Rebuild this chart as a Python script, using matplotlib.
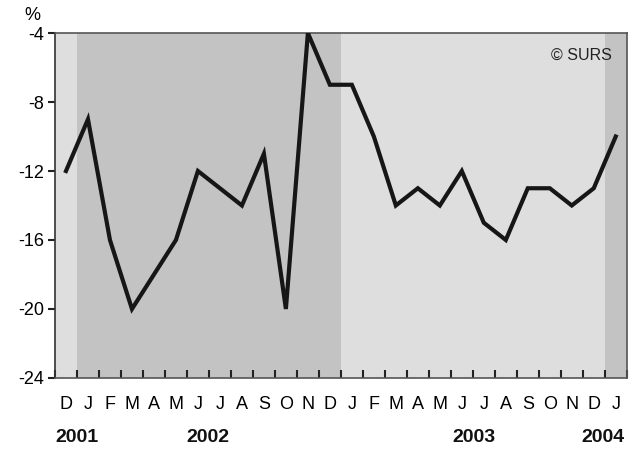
import matplotlib.pyplot as plt
import matplotlib.transforms as mtransforms
import numpy as np

plt.rcParams['font.family'] = ['Liberation Sans', 'DejaVu Sans']

months = ['D', 'J', 'F', 'M', 'A', 'M', 'J', 'J', 'A', 'S', 'O', 'N',
          'D', 'J', 'F', 'M', 'A', 'M', 'J', 'J', 'A', 'S', 'O', 'N',
          'D', 'J']
values = [-12, -9, -16, -20, -18, -16, -12, -13, -14, -11, -20, -4,
          -7, -7, -10, -14, -13, -14, -12, -15, -16, -13, -13, -14,
          -13, -10]
years = ['2001', '2002', '2003', '2004']
months_per_year = [1, 12, 12, 1]
year_label_pos = [0.5, 6.45, 18.55, 24.4]

band_colors = ['#dedede', '#c3c3c3']

fig = plt.figure(figsize=(6.35, 4.51), dpi=100)
ax = fig.add_axes([0.0866, 0.1619, 0.9004, 0.7649])

x = np.arange(len(values))

# alternating shaded blocks, one per year
start = -0.5
for i, n in enumerate(months_per_year):
    ax.axvspan(start, start + n, color=band_colors[i % 2], lw=0, zorder=0)
    start += n

ax.plot(x, values, color='#161616', lw=3.0, solid_joinstyle='miter', zorder=3)

ax.set_xlim(-0.5, len(values) - 0.5)
ax.set_ylim(-24, -4)
ax.set_yticks([-24, -20, -16, -12, -8, -4])
ax.set_yticklabels(['-24', '-20', '-16', '-12', '-8', '-4'])

# ticks sit on month boundaries, letters centred in between
ax.set_xticks(np.arange(len(values) + 1) - 0.5)
ax.set_xticklabels([])
ax.set_xticks(x, minor=True)
ax.set_xticklabels(months, minor=True)
ax.tick_params(axis='x', which='major', direction='in', length=6, width=1.5,
               color='#222222')
ax.tick_params(axis='x', which='minor', length=0, pad=13, labelsize=13)
ax.tick_params(axis='y', direction='out', length=5, width=1.5, pad=3,
               labelsize=13, color='#222222')

for s in ax.spines.values():
    s.set_color('#555555')
    s.set_linewidth(1.2)
ax.spines['left'].set_color('#333333')

trans = mtransforms.blended_transform_factory(ax.transData, fig.transFigure)
for yr, pos in zip(years, year_label_pos):
    ax.text(pos, 1 - 437.5 / 451, yr, transform=trans, ha='center', va='center',
            fontsize=14, fontweight='bold', color='#111111')

fig.text(32 / 635, 1 - 15 / 451, '%', ha='center', va='center', fontsize=13)
ax.text(0.92, 0.935, '© SURS', transform=ax.transAxes, ha='center', va='center',
        fontsize=11.5, color='#222222')

fig.savefig('out.png', dpi=100)
